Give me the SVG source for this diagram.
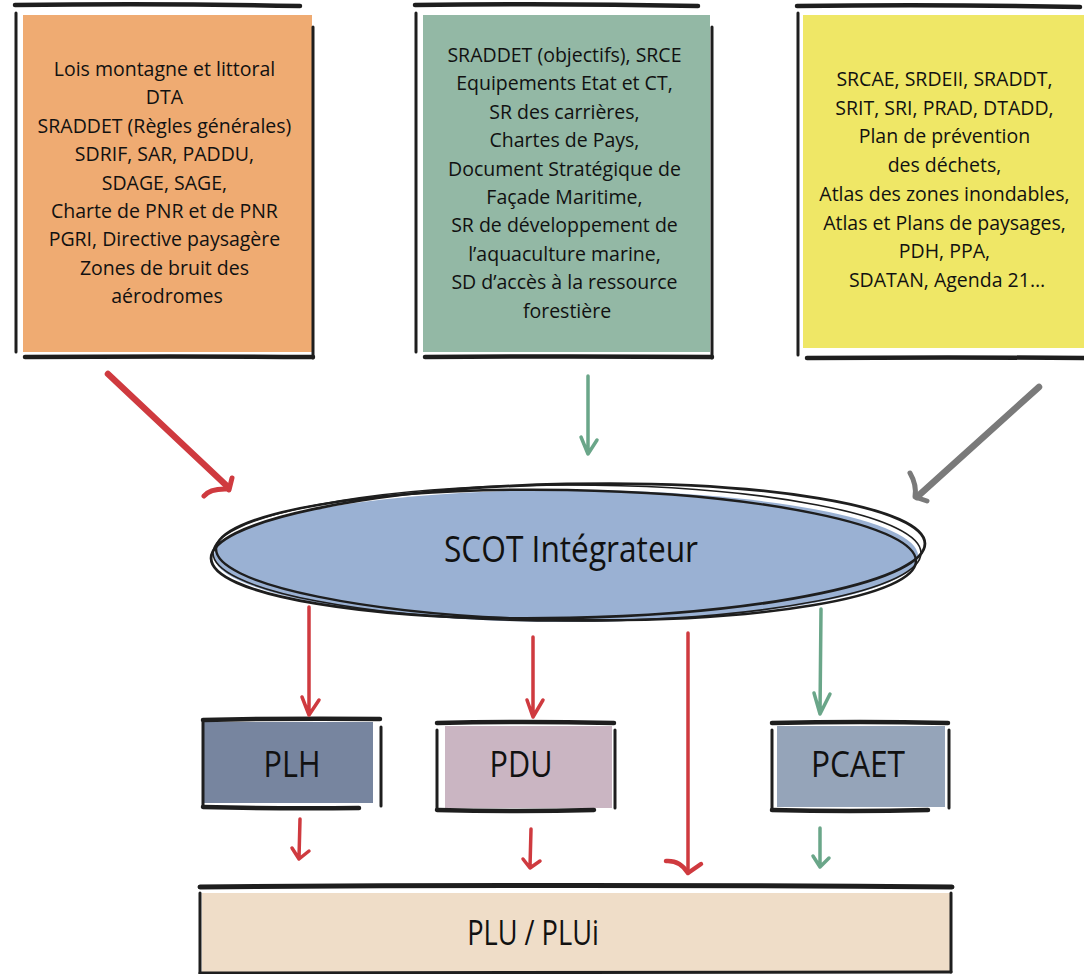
<svg xmlns="http://www.w3.org/2000/svg" width="1084" height="974" viewBox="0 0 1084 974">
<style>
  .t { font-family: "Open Sans", "Noto Sans", sans-serif; fill: #111; text-anchor: middle; }
  .body { font-size: 19.5px; }
  .big { font-size: 36px; }
  .ink { stroke: #1e1e1e; fill: none; stroke-linecap: round; stroke-linejoin: round; }
  .h { stroke-width: 4.5; }
  .v { stroke-width: 3; }
  .red { stroke: #cf3a3f; fill: none; stroke-linecap: round; stroke-linejoin: round; }
  .green { stroke: #6aa689; fill: none; stroke-linecap: round; stroke-linejoin: round; }
  .gray { stroke: #7a7a7a; fill: none; stroke-linecap: round; stroke-linejoin: round; }
</style>
<rect width="1084" height="974" fill="#ffffff"/>

<g id="box-orange">
  <rect x="23" y="15" width="289" height="337" fill="#efab72"/>
  <path class="ink h" d="M15,5 Q160,3 300,6"/>
  <path class="ink v" d="M16,13 L16,352"/>
  <path class="ink v" d="M313,27 L313,358"/>
  <path class="ink h" d="M25,357 Q170,356 313,357"/>
  <text class="t body">
    <tspan x="167" y="76">Lois montagne et littoral</tspan>
    <tspan x="167" y="104.4">DTA</tspan>
    <tspan x="167" y="132.8">SRADDET (Règles générales)</tspan>
    <tspan x="167" y="161.2">SDRIF, SAR, PADDU,</tspan>
    <tspan x="167" y="189.6">SDAGE, SAGE,</tspan>
    <tspan x="167" y="218">Charte de PNR et de PNR</tspan>
    <tspan x="167" y="246.4">PGRI, Directive paysagère</tspan>
    <tspan x="167" y="274.8">Zones de bruit des</tspan>
    <tspan x="167" y="303.2">aérodromes</tspan>
  </text>
</g>

<g id="box-green">
  <rect x="423" y="15" width="287" height="337" fill="#93b8a5"/>
  <path class="ink h" d="M415,5 Q560,3 698,6"/>
  <path class="ink v" d="M416,13 L416,352"/>
  <path class="ink v" d="M712,27 L712,358"/>
  <path class="ink h" d="M425,357 Q570,356 712,357"/>
  <text class="t body">
    <tspan x="567" y="62">SRADDET (objectifs), SRCE</tspan>
    <tspan x="567" y="90.4">Equipements Etat et CT,</tspan>
    <tspan x="567" y="118.8">SR des carrières,</tspan>
    <tspan x="567" y="147.2">Chartes de Pays,</tspan>
    <tspan x="567" y="175.6">Document Stratégique de</tspan>
    <tspan x="567" y="204">Façade Maritime,</tspan>
    <tspan x="567" y="232.4">SR de développement de</tspan>
    <tspan x="567" y="260.8">l’aquaculture marine,</tspan>
    <tspan x="567" y="289.2">SD d’accès à la ressource</tspan>
    <tspan x="567" y="317.6">forestière</tspan>
  </text>
</g>

<g id="box-yellow">
  <rect x="803" y="15" width="281" height="333" fill="#efe766"/>
  <path class="ink h" d="M797,6 Q940,4 1080,7"/>
  <path class="ink v" d="M798,13 L798,355"/>
  <path class="ink h" d="M807,358 Q950,357 1084,358"/>
  <text class="t body">
    <tspan x="947" y="86">SRCAE, SRDEII, SRADDT,</tspan>
    <tspan x="947" y="114.7">SRIT, SRI, PRAD, DTADD,</tspan>
    <tspan x="947" y="143.4">Plan de prévention</tspan>
    <tspan x="947" y="172.1">des déchets,</tspan>
    <tspan x="947" y="200.8">Atlas des zones inondables,</tspan>
    <tspan x="947" y="229.5">Atlas et Plans de paysages,</tspan>
    <tspan x="947" y="258.2">PDH, PPA,</tspan>
    <tspan x="947" y="286.9">SDATAN, Agenda 21…</tspan>
  </text>
</g>

<g id="scot">
  <ellipse cx="566" cy="556" rx="352" ry="66" fill="#9ab1d3"/>
  <ellipse class="ink" cx="568" cy="551" rx="357" ry="67" stroke-width="2.8" transform="rotate(-1.2 568 551)"/>
  <ellipse class="ink" cx="566" cy="555" rx="350" ry="65" stroke-width="2.4" transform="rotate(1 566 555)"/>
  <ellipse class="ink" cx="567" cy="553" rx="354" ry="68" stroke-width="1.6"/>
  <text class="t big" transform="translate(571 562) scale(0.88 1)">SCOT Intégrateur</text>
</g>

<g id="plh">
  <rect x="204" y="722" width="169" height="81" fill="#77859f"/>
  <path class="ink h" d="M203,720 Q290,718 380,719"/>
  <path class="ink v" d="M203,722 L203,806"/>
  <path class="ink v" d="M381,727 L381,806"/>
  <path class="ink h" d="M203,807 Q280,809 359,808"/>
  <text class="t big" transform="translate(292 777) scale(0.85 1)">PLH</text>
</g>

<g id="pdu">
  <rect x="445" y="726" width="167" height="82" fill="#cab5c2"/>
  <path class="ink h" d="M437,723 Q520,721 614,723"/>
  <path class="ink v" d="M437,730 L437,810"/>
  <path class="ink v" d="M615,730 L615,808"/>
  <path class="ink h" d="M437,810 Q520,812 594,810"/>
  <text class="t big" transform="translate(521 777) scale(0.85 1)">PDU</text>
</g>

<g id="pcaet">
  <rect x="777" y="726" width="168" height="81" fill="#95a4b9"/>
  <path class="ink h" d="M772,723 Q860,721 948,723"/>
  <path class="ink v" d="M772,730 L772,810"/>
  <path class="ink v" d="M949,730 L949,808"/>
  <path class="ink h" d="M772,810 Q850,812 928,810"/>
  <text class="t big" transform="translate(858 777) scale(0.88 1)">PCAET</text>
</g>

<g id="plu">
  <rect x="202" y="893" width="748" height="80" fill="#efddc8"/>
  <path class="ink" stroke-width="5" d="M200,887 Q580,884 952,887"/>
  <path class="ink v" d="M200,893 L200,974"/>
  <path class="ink v" d="M951,893 L951,972"/>
  <path class="ink v" d="M200,973 L951,972"/>
  <text class="t" font-size="34" transform="translate(533 945) scale(0.8 1)">PLU / PLUi</text>
</g>

<g id="connectors">
  <path class="red" stroke-width="6.5" d="M108,374 L228,487"/>
  <path class="red" stroke-width="5" d="M204,496 Q210,488 229,489 M232,478 L229,490"/>

  <path class="gray" stroke-width="6.5" d="M1039,387 L917,497"/>
  <path class="gray" stroke-width="5" d="M910,473 Q917,485 915,497 L927,501"/>

  <path class="green" stroke-width="3.5" d="M588,376 L588,454 M581,437 L588,454 L597,440"/>

  <path class="red" stroke-width="3.5" d="M309,607 L309,714 M302,697 L309,715 L319,700"/>
  <path class="red" stroke-width="3.5" d="M533,637 L533,716 M527,700 L533,717 L543,700"/>
  <path class="green" stroke-width="3.5" d="M821,609 L820,714 M814,693 L820,714 L830,694"/>

  <path class="red" stroke-width="3.5" d="M688,633 L688,873"/>
  <path class="red" stroke-width="4.5" d="M666,861 Q680,860 688,873 L701,864"/>

  <path class="red" stroke-width="3.5" d="M300,819 L299,858 M292,848 L299,859 L309,851"/>
  <path class="red" stroke-width="3.5" d="M531,829 L530,867 M523,859 L530,868 L540,861"/>
  <path class="green" stroke-width="3.5" d="M820,828 L820,866 M813,856 L820,867 L829,858"/>
</g>
</svg>
